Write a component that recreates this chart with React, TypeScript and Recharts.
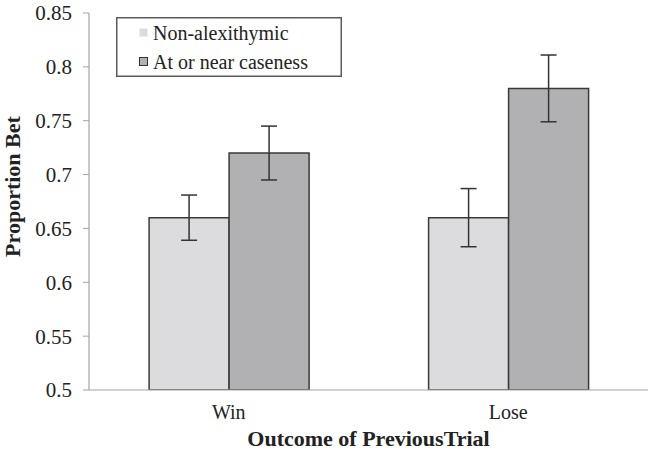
import React from 'react';
import { BarChart, Bar, XAxis, YAxis, ErrorBar, Legend } from 'recharts';

const categories = ['Win', 'Lose'];
const seriesNames = ['Non-alexithymic', 'At or near caseness'];
const nonAlexValues = [0.66, 0.66];
const nonAlexErrors = [0.021, 0.027];
const casenessValues = [0.72, 0.78];
const casenessErrors = [0.025, 0.031];
const yTicks = [0.5, 0.55, 0.6, 0.65, 0.7, 0.75, 0.8, 0.85];
const boundaryTicks = [0, 1, 2];

const FONT = 'Liberation Serif, serif';
const AXIS = '#a3a3a3';
const COLORS = ['#dcdcde', '#b1b1b4'];

const data = categories.map((name, i) => ({
  name,
  non: nonAlexValues[i],
  nonErr: nonAlexErrors[i],
  cas: casenessValues[i],
  casErr: casenessErrors[i],
}));

const LegendBox = () => (
  <svg width={226} height={60} style={{ display: 'block' }}>
    <rect x={0.75} y={0.75} width={224.5} height={58.5} fill="#fff" stroke="#5a5a5a" strokeWidth={1.5} />
    {seriesNames.map((n, i) => (
      <g key={n}>
        <rect
          x={23.5}
          y={11.5 + i * 29}
          width={8}
          height={8}
          fill={COLORS[i]}
          stroke={i === 0 ? 'none' : '#333'}
          strokeWidth={1}
        />
        <text x={37} y={22.5 + i * 29} fontFamily={FONT} fontSize={20} fill="#222">
          {n}
        </text>
      </g>
    ))}
  </svg>
);

const YTitle = (props: any) => {
  const vb = props.viewBox || {};
  const x = (vb.x || 0) + 12;
  const y = (vb.y || 0) + vb.height / 2 - 15;
  return (
    <text
      x={x}
      y={y}
      transform={`rotate(-90, ${x}, ${y})`}
      textAnchor="middle"
      dominantBaseline="central"
      fontFamily={FONT}
      fontWeight="bold"
      fontSize={22}
      fill="#222"
    >
      Proportion Bet
    </text>
  );
};

const XTitle = (props: any) => {
  const vb = props.viewBox || {};
  const x = (vb.x || 0) + vb.width / 2;
  const y = (vb.y || 0) + 56;
  return (
    <text x={x} y={y} textAnchor="middle" fontFamily={FONT} fontWeight="bold" fontSize={22} fill="#222">
      Outcome of PreviousTrial
    </text>
  );
};

export default function App() {
  return (
    <div style={{ position: 'absolute', left: 0, top: 0, width: 666, height: 451, background: '#fff' }}>
      <BarChart
        width={666}
        height={451}
        data={data}
        margin={{ top: 13, right: 18, left: 0, bottom: 0 }}
        barCategoryGap="21.5%"
        barGap={0}
      >
        <XAxis
          xAxisId="grid"
          type="number"
          domain={[0, 2]}
          ticks={boundaryTicks}
          height={0}
          axisLine={false}
          tickLine={{ stroke: AXIS, strokeWidth: 1 }}
          tickSize={7}
          tickFormatter={() => ''}
        />
        <XAxis
          dataKey="name"
          height={61}
          axisLine={{ stroke: AXIS, strokeWidth: 1.2 }}
          tickLine={false}
          tickSize={6}
          tickMargin={9}
          tick={{ fontFamily: FONT, fontSize: 20, fill: '#222' }}
          label={<XTitle />}
        />
        <YAxis
          width={89}
          domain={[0.5, 0.85]}
          ticks={yTicks}
          allowDataOverflow
          axisLine={{ stroke: AXIS, strokeWidth: 1.2 }}
          tickLine={{ stroke: AXIS, strokeWidth: 1 }}
          tickSize={6}
          tickMargin={11}
          tick={{ fontFamily: FONT, fontSize: 21, fill: '#222' }}
          label={<YTitle />}
        />
        <Legend
          layout="vertical"
          align="center"
          verticalAlign="middle"
          content={<LegendBox />}
          wrapperStyle={{ left: 116, top: 17, width: 226, height: 60 }}
        />
        <Bar dataKey="non" name={seriesNames[0]} fill={COLORS[0]} stroke="#3a3a3a" strokeWidth={1.5} isAnimationActive={false}>
          <ErrorBar dataKey="nonErr" width={8} stroke="#333" strokeWidth={1.5} />
        </Bar>
        <Bar dataKey="cas" name={seriesNames[1]} fill={COLORS[1]} stroke="#3a3a3a" strokeWidth={1.5} isAnimationActive={false}>
          <ErrorBar dataKey="casErr" width={8} stroke="#333" strokeWidth={1.5} />
        </Bar>
      </BarChart>
    </div>
  );
}
